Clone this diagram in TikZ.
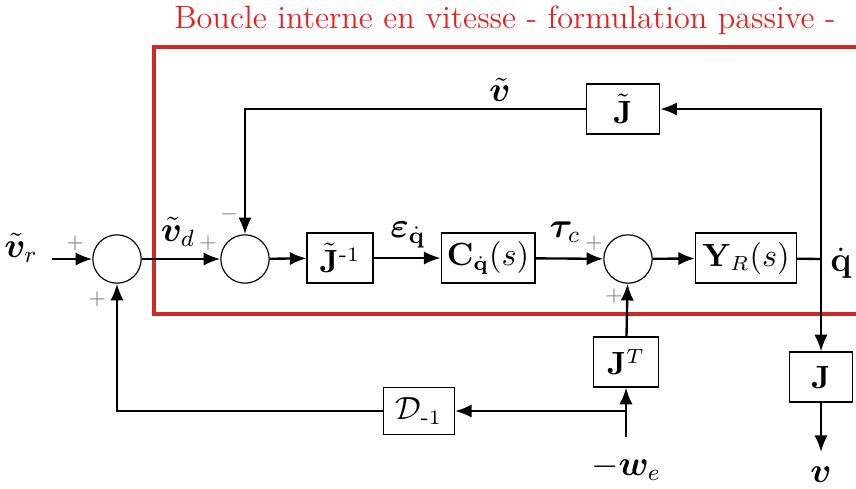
\documentclass[tikz,border=0pt]{standalone}
\usepackage{amsmath,amssymb}
\usepackage{bm}
\usetikzlibrary{arrows.meta, positioning, calc}
\definecolor{boxred}{RGB}{208, 40, 36}
\definecolor{titlered}{RGB}{235, 30, 30}

\tikzset{
  block/.style={rectangle, draw, thin, minimum height=0.6cm, inner sep=2pt, font=\fontsize{10.5}{12}\selectfont},
  sumnode/.style={circle, draw, thin, minimum size=0.58cm, inner sep=0pt},
  sig/.style={thick, -{Latex[length=2mm, width=1.6mm]}},
  sgn/.style={gray, font=\scriptsize},
  lbl/.style={font=\fontsize{11.5}{13}\selectfont}
}

\begin{document}
\begin{tikzpicture}[x=0.012cm, y=-0.012cm]

  \useasboundingbox (0,0) rectangle (856,488);

  % ===== cadre de la boucle interne =====
  \draw[boxred, line width=1.1pt] (870,47) -- (154,47) -- (154,314) -- (870,314);
  \node[titlered, font=\fontsize{11}{13}\selectfont] (titre) at (505,20) {Boucle interne en vitesse - formulation passive -};

  % ===== sommateurs =====
  \node[sumnode] (s1) at (117,259) {};
  \node[sumnode] (s2) at (245,259) {};
  \node[sumnode] (s3) at (628,259) {};

  % ===== blocs =====
  \node[block, minimum width=0.79cm] (jinv) at (340,258) {$\tilde{\mathbf{J}}^{\text{-}1}$};
  \node[block, minimum width=1.1cm] (cq) at (488,258) {$\mathbf{C}_{\dot{\mathbf{q}}}(s)$};
  \node[block, minimum width=1.21cm] (yr) at (746,258) {$\mathbf{Y}_R(s)$};
  \node[block, minimum width=0.88cm] (jt) at (623,109) {$\tilde{\mathbf{J}}$};
  \node[block, minimum width=0.77cm] (jtr) at (626,362) {$\mathbf{J}^T$};
  \node[block, minimum width=0.76cm] (jbox) at (821,377) {$\mathbf{J}$};
  \node[block, minimum width=0.85cm, minimum height=0.56cm] (dinv) at (419,411) {$\mathcal{D}_{\text{-}1}$};

  % ===== points libres =====
  \coordinate (in) at (52,259);
  \coordinate (qd) at (821,259);
  \coordinate (vout) at (821,452);
  \coordinate (we) at (626,437);
  \coordinate (br) at (626,411);

  % ===== liaisons =====
  \draw[sig] (in) -- (s1);
  \draw[sig] (s1) -- (s2);
  \draw[sig] (s2) -- (jinv);
  \draw[sig] (jinv) -- (cq);
  \draw[sig] (cq) -- (s3);
  \draw[sig] (s3) -- (yr);
  \draw[thick] (yr) -- (qd);
  \draw[sig] (qd) |- (jt.east);
  \draw[sig] (jt.west) -| (s2.north);
  \draw[sig] (qd) -- (jbox);
  \draw[sig] (jbox) -- (vout);
  \draw[sig] (we) -- (jtr);
  \draw[sig] (br) -- (dinv);
  \draw[sig] (dinv.west) -| (s1.south);
  \draw[sig] (jtr) -- (s3);

  % ===== signaux =====
  \node[lbl] (lvr) at (21,248) {$\tilde{\bm{v}}_r$};
  \node[lbl] (lvd) at (178,232) {$\tilde{\bm{v}}_d$};
  \node[lbl] (leps) at (408,235) {$\bm{\varepsilon}_{\dot{\mathbf{q}}}$};
  \node[lbl] (ltau) at (565,232) {$\bm{\tau}_c$};
  \node[lbl] (lqd) at (841,263) {$\dot{\mathbf{q}}$};
  \node[lbl] (lv) at (500,90) {$\tilde{\bm{v}}$};
  \node[lbl] (lwe) at (626,468) {$-\bm{w}_e$};
  \node[lbl] (lvo) at (821,475) {$\bm{v}$};

  % ===== signes =====
  \node[sgn] at (75,243) {$+$};
  \node[sgn] at (97,299) {$+$};
  \node[sgn] at (208,243) {$+$};
  \node[sgn] at (229,214) {$-$};
  \node[sgn] at (594,243) {$+$};
  \node[sgn] at (614,296) {$+$};

\end{tikzpicture}
\end{document}
